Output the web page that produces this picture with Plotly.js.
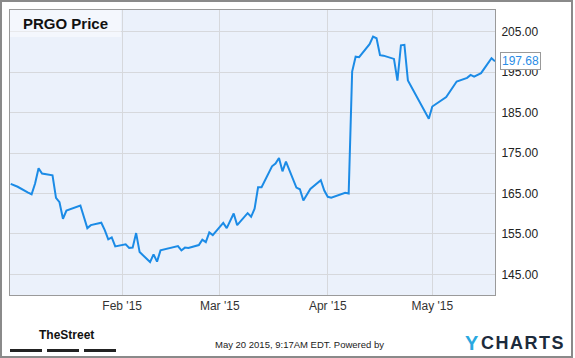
<!DOCTYPE html>
<html><head><meta charset="utf-8">
<script src="https://cdn.plot.ly/plotly-3.0.1.min.js"></script>
<style>html,body{margin:0;padding:0;background:#fff}#chart{width:575px;height:358px}</style>
</head><body><div id="chart"></div>
<script>
const dates = ['2014-12-31','2015-01-02','2015-01-05','2015-01-06','2015-01-07','2015-01-08','2015-01-09','2015-01-12','2015-01-13','2015-01-14','2015-01-15','2015-01-16','2015-01-20','2015-01-22','2015-01-23','2015-01-26','2015-01-27','2015-01-28','2015-01-29','2015-01-30','2015-02-02','2015-02-03','2015-02-04','2015-02-05','2015-02-06','2015-02-09','2015-02-10','2015-02-11','2015-02-12','2015-02-13','2015-02-17','2015-02-18','2015-02-19','2015-02-20','2015-02-23','2015-02-24','2015-02-25','2015-02-26','2015-02-27','2015-03-02','2015-03-03','2015-03-05','2015-03-06','2015-03-09','2015-03-10','2015-03-11','2015-03-12','2015-03-13','2015-03-16','2015-03-17','2015-03-18','2015-03-19','2015-03-20','2015-03-23','2015-03-24','2015-03-25','2015-03-27','2015-03-30','2015-03-31','2015-04-01','2015-04-02','2015-04-06','2015-04-07','2015-04-08','2015-04-09','2015-04-10','2015-04-13','2015-04-14','2015-04-15','2015-04-16','2015-04-17','2015-04-20','2015-04-21','2015-04-22','2015-04-23','2015-04-24','2015-04-27','2015-04-30','2015-05-01','2015-05-04','2015-05-05','2015-05-08','2015-05-11','2015-05-12','2015-05-13','2015-05-15','2015-05-18','2015-05-19'];
const prices = [167.37,166.65,165.22,164.80,167.44,171.21,169.91,169.49,163.92,162.83,158.74,160.78,162.02,156.42,157.16,157.75,155.92,153.63,154.12,151.91,152.40,151.54,151.60,155.20,150.50,148.03,149.93,148.13,150.92,151.10,151.98,150.90,151.60,151.50,152.23,153.56,152.97,155.36,154.70,157.70,156.42,160.04,157.16,160.12,159.23,161.25,166.53,166.53,171.71,172.37,173.78,170.47,172.87,166.46,166.04,163.25,166.13,168.26,165.72,164.16,163.92,165.15,164.98,195.14,198.83,198.70,201.92,203.77,203.37,199.20,199.08,198.27,192.92,201.65,201.77,192.92,188.16,183.47,186.50,188.35,188.85,192.67,193.58,194.32,193.90,194.74,198.44,197.68];
const monthTicks = ['2015-02-01','2015-03-01','2015-04-01','2015-05-01'];
const monthLabels = ["Feb '15","Mar '15","Apr '15","May '15"];
const priceTicks = [145,155,165,175,185,195,205];
const chartTitle = 'PRGO Price';
const stampText = 'May 20 2015, 9:17AM EDT. Powered by';
const brandLeft = 'TheStreet';

const lastDate = dates[dates.length-1];
const lastPrice = prices[prices.length-1];
const hs = '\u200A';
const BASE = 'Liberation Sans, Arial, sans-serif';

const trace = {
  x: dates, y: prices, type: 'scatter', mode: 'lines',
  line: {color: '#1b8be6', width: 2}, hoverinfo: 'skip', cliponaxis: true
};

const W = 485, H = 285; // plot area in px (for paper-coordinate decorations)
const px = v => (v - 10) / W;
const py = v => (295 - v) / H;

const layout = {
  width: 575, height: 358,
  margin: {l: 10, r: 80, t: 10, b: 63, pad: 0},
  paper_bgcolor: '#ffffff', plot_bgcolor: '#ebf1fb',
  showlegend: false,
  font: {family: BASE, size: 12, color: '#333'},
  xaxis: {
    type: 'date', range: ['2014-12-30 19:10', lastDate],
    tickmode: 'array', tickvals: monthTicks, ticktext: monthLabels,
    showgrid: true, gridcolor: '#d6d8dc', gridwidth: 1,
    showline: true, linecolor: '#9a9a9a', linewidth: 1, mirror: true,
    ticks: '', zeroline: false, fixedrange: true,
    tickfont: {family: BASE, size: 12, color: '#333'}
  },
  yaxis: {
    side: 'right', range: [139.88, 210.37],
    tickmode: 'array', tickvals: priceTicks, tickformat: '.2f',
    showgrid: true, gridcolor: '#d6d8dc', gridwidth: 1,
    showline: true, linecolor: '#9a9a9a', linewidth: 1, mirror: true,
    ticks: '', zeroline: false, fixedrange: true, ticklabelstandoff: 3,
    tickfont: {family: BASE, size: 12, color: '#222'}
  },
  shapes: [
    {type: 'rect', xref: 'paper', yref: 'paper', x0: 0, x1: px(121), y0: py(37), y1: 1,
     fillcolor: 'rgba(255,255,255,0.45)', line: {width: 0}, layer: 'above'},
    {type: 'rect', xref: 'paper', yref: 'paper', x0: px(1), x1: px(572), y0: py(357), y1: py(1),
     fillcolor: 'rgba(0,0,0,0)', line: {color: '#8a8a8a', width: 2}, layer: 'above'},
    {type: 'rect', xref: 'paper', yref: 'paper', x0: px(10), x1: px(42), y0: py(352), y1: py(349),
     fillcolor: '#222', line: {width: 0}},
    {type: 'rect', xref: 'paper', yref: 'paper', x0: px(47), x1: px(79), y0: py(352), y1: py(349),
     fillcolor: '#222', line: {width: 0}},
    {type: 'rect', xref: 'paper', yref: 'paper', x0: px(84), x1: px(116), y0: py(352), y1: py(349),
     fillcolor: '#222', line: {width: 0}},
    {type: 'path', xref: 'x', yref: 'y', xsizemode: 'pixel', ysizemode: 'pixel',
     xanchor: lastDate, yanchor: lastPrice,
     path: 'M 0.5 0 L 5.5 5 L 5.5 -5 Z', fillcolor: '#ffffff', line: {color: '#999', width: 1}, layer: 'above'}
  ],
  annotations: [
    {xref: 'paper', yref: 'paper', x: px(21), y: py(23), xanchor: 'left', yanchor: 'middle',
     text: '<b>' + chartTitle + '</b>', showarrow: false,
     font: {family: BASE, size: 15, color: '#111'}},
    {xref: 'x', yref: 'y', x: lastDate, y: lastPrice, xanchor: 'left', yanchor: 'middle',
     xshift: 4.5, text: lastPrice.toFixed(2), showarrow: false,
     bgcolor: '#ffffff', bordercolor: '#999', borderwidth: 1, borderpad: 1,
     font: {family: BASE, size: 12, color: '#2a8ce6'}},
    {xref: 'paper', yref: 'paper', x: px(37), y: py(335), xanchor: 'left', yanchor: 'middle',
     text: '<b>' + brandLeft + '</b>', showarrow: false,
     font: {family: BASE, size: 12, color: '#111'}},
    {xref: 'paper', yref: 'paper', x: px(386), y: py(344), xanchor: 'right', yanchor: 'middle',
     text: stampText, showarrow: false,
     font: {family: BASE, size: 9.5, color: '#222'}},
    {xref: 'paper', yref: 'paper', x: px(463), y: py(343), xanchor: 'left', yanchor: 'middle',
     text: '<b>Y</b>', showarrow: false,
     font: {family: BASE, size: 20, color: '#29a8e0'}},
    {xref: 'paper', yref: 'paper', x: px(479), y: py(343), xanchor: 'left', yanchor: 'middle',
     text: '<b>' + ['C','H','A','R','T','S'].join(hs) + '</b>', showarrow: false,
     font: {family: BASE, size: 18, color: '#1c2b3c'}}
  ]
};

Plotly.newPlot('chart', [trace], layout, {staticPlot: true, displayModeBar: false});
</script>
</body></html>
